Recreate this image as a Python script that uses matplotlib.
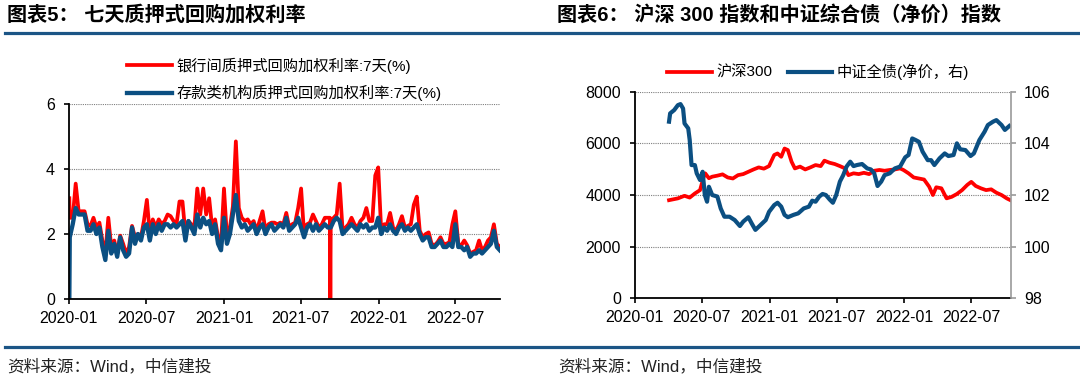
import matplotlib
matplotlib.use("Agg")
import matplotlib.pyplot as plt
import matplotlib.dates as mdates
from matplotlib.lines import Line2D
import pandas as pd

plt.rcParams['font.family'] = ['Liberation Sans', 'Noto Sans CJK SC', 'DejaVu Sans']

RED = '#FF0000'
BLUE = '#0B4F82'
RULE = '#1B5586'

# ---- left chart: 7-day pledged repo weighted rate, weekly readings (Fridays from 2020-01-03)
repo_start = '2020-01-03'
bank_rate = [2.5, 2.5, 3.55, 2.7, 2.7, 2.7, 2.3, 2.25, 2.5, 2.2,
             2.35, 1.8, 1.4, 2.5, 1.6, 1.8, 1.4, 1.95, 1.7, 1.4,
             1.6, 2.25, 1.9, 2.0, 1.9, 2.4, 3.05, 2.0, 2.45, 2.2,
             2.45, 2.3, 2.4, 2.6, 2.55, 2.4, 2.3, 3.0, 3.0, 2.0,
             2.4, 2.3, 2.2, 3.4, 2.6, 3.4, 2.6, 3.1, 2.2, 2.45,
             1.9, 1.7, 3.4, 1.9, 2.2, 2.85, 4.85, 2.8, 2.5, 2.4,
             2.45, 2.3, 2.4, 2.1, 2.4, 2.7, 2.1, 2.3, 2.35, 2.35,
             2.3, 2.35, 2.3, 2.65, 2.2, 2.3, 2.35, 2.8, 3.4, 2.0,
             2.3, 2.35, 2.6, 2.4, 2.2, 2.3, 2.5, 2.5, 2.4, 2.5,
             2.6, 3.55, 2.1, 2.2, 2.3, 2.5, 2.3, 2.2, 2.4, 2.5,
             2.8, 2.4, 2.4, 3.8, 4.05, 2.1, 2.3, 2.3, 2.65, 2.2,
             2.1, 2.3, 2.55, 2.2, 2.25, 2.3, 2.9, 3.15, 2.1, 1.9,
             2.0, 2.05, 1.7, 1.65, 1.75, 1.9, 1.7, 1.7, 1.75, 2.3,
             2.7, 1.7, 1.65, 1.8, 1.65, 1.4, 1.45, 1.5, 1.8, 1.5,
             1.6, 1.8, 1.9, 2.3, 1.7, 1.6]
dep_rate = [1.9, 2.3, 2.8, 2.6, 2.6, 2.6, 2.1, 2.1, 2.3, 2.0,
            2.2, 1.6, 1.2, 2.1, 1.4, 1.7, 1.3, 1.9, 1.5, 1.3,
            1.4, 2.2, 1.7, 2.0, 1.8, 2.2, 2.3, 1.8, 2.3, 2.0,
            2.3, 2.1, 2.3, 2.3, 2.2, 2.3, 2.2, 2.3, 2.4, 1.8,
            2.4, 2.2, 2.0, 2.6, 2.2, 2.5, 2.3, 2.4, 2.0, 2.3,
            1.7, 1.5, 2.5, 1.7, 2.0, 2.6, 3.2, 2.4, 2.2, 2.3,
            2.1, 2.2, 2.3, 2.0, 2.2, 2.3, 2.0, 2.2, 2.3, 2.1,
            2.2, 2.3, 2.2, 2.5, 2.1, 2.2, 2.3, 2.5, 2.2, 1.9,
            2.2, 2.3, 2.1, 2.3, 2.1, 2.2, 2.3, 2.2, 2.2, 2.4,
            2.5, 2.4, 2.0, 2.1, 2.2, 2.3, 2.2, 2.1, 2.3, 2.2,
            2.3, 2.1, 2.2, 2.2, 2.5, 2.0, 2.2, 2.1, 2.3, 2.1,
            2.0, 2.2, 2.3, 2.1, 2.2, 2.1, 2.2, 2.3, 2.0, 1.8,
            1.9, 1.9, 1.6, 1.6, 1.7, 1.8, 1.6, 1.6, 1.7, 1.6,
            2.3, 1.6, 1.6, 1.5, 1.6, 1.3, 1.4, 1.4, 1.5, 1.4,
            1.5, 1.6, 1.7, 2.1, 1.6, 1.5]
# single-day points outside the weekly grid
bank_extra_dates = ['2020-01-02', '2021-09-08', '2021-09-09']
bank_extra_vals = [3.1, 2.5, 0.0]
dep_extra_dates = ['2020-01-02']
dep_extra_vals = [0.0]

# ---- right chart: CSI 300 and ChinaBond aggregate (net price)
hs300_dates = ['2020-04-03', '2020-04-27', '2020-05-15', '2020-05-29', '2020-06-12', '2020-06-26',
               '2020-07-06', '2020-07-10', '2020-07-20', '2020-07-29', '2020-08-12', '2020-08-26',
               '2020-09-09', '2020-09-23', '2020-10-07', '2020-10-21', '2020-11-04', '2020-11-18',
               '2020-12-02', '2020-12-16', '2020-12-30', '2021-01-13', '2021-01-22', '2021-02-01',
               '2021-02-10', '2021-02-19', '2021-03-01', '2021-03-10', '2021-03-24', '2021-04-07',
               '2021-04-21', '2021-05-05', '2021-05-19', '2021-05-29', '2021-06-12', '2021-06-26',
               '2021-07-10', '2021-07-24', '2021-08-02', '2021-08-16', '2021-08-30', '2021-09-13',
               '2021-09-27', '2021-10-11', '2021-10-25', '2021-11-08', '2021-11-22', '2021-12-06',
               '2021-12-20', '2021-12-29', '2022-01-12', '2022-01-26', '2022-02-09', '2022-02-23',
               '2022-03-09', '2022-03-19', '2022-03-28', '2022-04-11', '2022-04-25', '2022-05-09',
               '2022-05-23', '2022-06-06', '2022-06-20', '2022-07-01', '2022-07-13', '2022-07-27',
               '2022-08-10', '2022-08-24', '2022-09-07', '2022-09-21', '2022-10-05', '2022-10-15']
hs300 = [3800, 3870, 3970, 3900, 4060, 4190,
         4710, 4840, 4650, 4710, 4750, 4800,
         4680, 4640, 4770, 4810, 4900, 4990,
         5070, 5020, 5120, 5550, 5610, 5480,
         5800, 5740, 5290, 5030, 5100, 4990,
         5070, 5160, 5120, 5330, 5250, 5200,
         5120, 5030, 4770, 4840, 4810, 4860,
         4810, 4940, 4970, 4940, 4970, 4990,
         5030, 4970, 4840, 4680, 4640, 4600,
         4320, 4000, 4300, 4260, 3870, 3930,
         4040, 4190, 4390, 4510, 4350, 4260,
         4190, 4220, 4090, 4000, 3870, 3800]

bond_dates = ['2020-04-03', '2020-04-06', '2020-04-17', '2020-04-27', '2020-05-04', '2020-05-11',
              '2020-05-15', '2020-05-25', '2020-05-29', '2020-06-03', '2020-06-12', '2020-06-17',
              '2020-06-26', '2020-07-03', '2020-07-09', '2020-07-15', '2020-07-20', '2020-07-29',
              '2020-08-12', '2020-08-21', '2020-08-31', '2020-09-14', '2020-09-28', '2020-10-12',
              '2020-10-21', '2020-11-04', '2020-11-13', '2020-11-23', '2020-12-07', '2020-12-21',
              '2020-12-30', '2021-01-13', '2021-01-22', '2021-02-01', '2021-02-10', '2021-02-19',
              '2021-03-06', '2021-03-19', '2021-04-03', '2021-04-17', '2021-04-26', '2021-05-05',
              '2021-05-15', '2021-05-24', '2021-06-02', '2021-06-12', '2021-06-21', '2021-06-30',
              '2021-07-10', '2021-07-19', '2021-07-28', '2021-08-07', '2021-08-16', '2021-08-25',
              '2021-09-08', '2021-09-22', '2021-10-02', '2021-10-11', '2021-10-20', '2021-10-30',
              '2021-11-08', '2021-11-22', '2021-12-06', '2021-12-20', '2022-01-03', '2022-01-12',
              '2022-01-22', '2022-01-31', '2022-02-09', '2022-02-19', '2022-03-05', '2022-03-14',
              '2022-03-23', '2022-04-06', '2022-04-20', '2022-04-30', '2022-05-14', '2022-05-23',
              '2022-06-01', '2022-06-15', '2022-06-29', '2022-07-08', '2022-07-23', '2022-08-06',
              '2022-08-15', '2022-08-29', '2022-09-07', '2022-09-21', '2022-09-30', '2022-10-12']
bond = [104.84, 105.16, 105.29, 105.48, 105.52, 105.35,
        104.77, 104.58, 104.13, 103.16, 103.16, 102.84,
        102.58, 102.90, 102.00, 101.74, 102.32, 102.00,
        101.94, 101.48, 101.16, 101.16, 101.03, 100.80,
        100.97, 101.14, 100.90, 100.65, 100.84, 101.03,
        101.35, 101.61, 101.70, 101.55, 101.23, 101.14,
        101.23, 101.29, 101.48, 101.55, 101.78, 101.74,
        101.94, 102.04, 102.00, 101.83, 101.70, 102.00,
        102.52, 102.77, 103.10, 103.29, 103.12, 103.16,
        103.20, 103.03, 102.99, 102.84, 102.35, 102.52,
        102.77, 102.84, 103.03, 103.10, 103.46, 103.55,
        104.19, 104.13, 104.06, 103.68, 103.35, 103.35,
        103.16, 103.42, 103.61, 103.51, 103.55, 104.00,
        103.77, 103.74, 103.51, 103.61, 104.13, 104.45,
        104.71, 104.84, 104.90, 104.71, 104.52, 104.67]


def weekly(vals, extra_dates, extra_vals):
    s = pd.Series(vals, index=pd.date_range(repo_start, periods=len(vals), freq='7D'))
    e = pd.Series(extra_vals, index=pd.to_datetime(extra_dates))
    return pd.concat([s, e]).sort_index()


bank = weekly(bank_rate, bank_extra_dates, bank_extra_vals)
dep = weekly(dep_rate, dep_extra_dates, dep_extra_vals)

fig = plt.figure(figsize=(10.8, 3.81), dpi=100)

# ---------------- left panel
ax1 = fig.add_axes([0.0638, 0.2152, 0.3994, 0.5118])
l1, = ax1.plot(bank.index, bank.values, color=RED, lw=2.7, solid_joinstyle='round')
l2, = ax1.plot(dep.index, dep.values, color=BLUE, lw=3.1, solid_joinstyle='round')
ax1.set_ylim(0, 6)
ax1.set_yticks([0, 2, 4, 6])
ax1.set_xlim(pd.Timestamp('2020-01-01'), pd.Timestamp('2022-10-15'))

# ---------------- right panel
ax2 = fig.add_axes([0.5877, 0.217, 0.3482, 0.5423])
ax3 = ax2.twinx()
r1, = ax2.plot(pd.to_datetime(hs300_dates), hs300, color=RED, lw=2.7)
r2, = ax3.plot(pd.to_datetime(bond_dates), bond, color=BLUE, lw=3.0)
ax2.set_ylim(0, 8000)
ax2.set_yticks([0, 2000, 4000, 6000, 8000])
ax3.set_ylim(98, 106)
ax3.set_yticks([98, 100, 102, 104, 106])
ax2.set_xlim(pd.Timestamp('2020-01-01'), pd.Timestamp('2022-10-16'))

for ax in (ax1, ax2):
    ax.xaxis.set_major_locator(mdates.MonthLocator(bymonth=[1, 7]))
    ax.xaxis.set_major_formatter(mdates.DateFormatter('%Y-%m'))
    ax.yaxis.grid(True, linestyle=(0, (1, 1)), color='#7f7f7f', lw=0.8)
    ax.set_axisbelow(True)
    ax.spines['top'].set_visible(False)
    ax.spines['right'].set_visible(False)
    for sp in ('left', 'bottom'):
        ax.spines[sp].set_linewidth(1.3)
        ax.spines[sp].set_color('black')
    ax.tick_params(axis='y', direction='out', length=3.5, width=1.2, labelsize=11.5, pad=6.5)
    ax.tick_params(axis='x', direction='out', length=3.5, width=1.2, labelsize=11.5, pad=5)

ax3.spines['top'].set_visible(False)
ax3.spines['left'].set_visible(False)
ax3.spines['bottom'].set_visible(False)
ax3.spines['right'].set_color('#9a9a9a')
ax3.spines['right'].set_linewidth(1.2)
ax3.tick_params(axis='y', direction='out', length=3.5, width=1.2, color='#9a9a9a',
                labelsize=11.5, pad=6)
ax2.set_zorder(1)
ax3.set_zorder(2)
ax3.patch.set_visible(False)

# ---------------- legends
fig.legend([l1, l2], ['银行间质押式回购加权利率:7天(%)', '存款类机构质押式回购加权利率:7天(%)'],
           loc='center left', bbox_to_anchor=(126.7 / 1080, 1 - 79.5 / 381),
           frameon=False, fontsize=11, handlelength=2.95, handletextpad=0.3,
           labelspacing=0.75, borderpad=0, borderaxespad=0)
fig.legend([r1, r2], ['沪深300', '中证全债(净价，右)'], ncol=2,
           loc='center left', bbox_to_anchor=(667.4 / 1080, 1 - 71.7 / 381),
           frameon=False, fontsize=11, handlelength=2.9, handletextpad=0.3,
           columnspacing=1.0, borderpad=0, borderaxespad=0)

# ---------------- titles, rules, sources
fig.text(7 / 1080, 1 - 15 / 381, '图表5： 七天质押式回购加权利率', fontsize=14.5,
         weight='bold', va='center', ha='left')
fig.text(557 / 1080, 1 - 15 / 381, '图表6： 沪深 300 指数和中证综合债（净价）指数', fontsize=14.5,
         weight='bold', va='center', ha='left')
fig.add_artist(Line2D([5 / 1080, 1.0], [1 - 32.5 / 381] * 2, color=RULE, lw=2.3))
fig.add_artist(Line2D([5 / 1080, 1.0], [1 - 346.5 / 381] * 2, color=RULE, lw=2.3))
fig.text(7 / 1080, 1 - 366 / 381, '资料来源：Wind，中信建投', fontsize=12,
         va='center', ha='left', color='#222222')
fig.text(558 / 1080, 1 - 366 / 381, '资料来源：Wind，中信建投', fontsize=12,
         va='center', ha='left', color='#222222')

fig.savefig('out.png', dpi=100)
